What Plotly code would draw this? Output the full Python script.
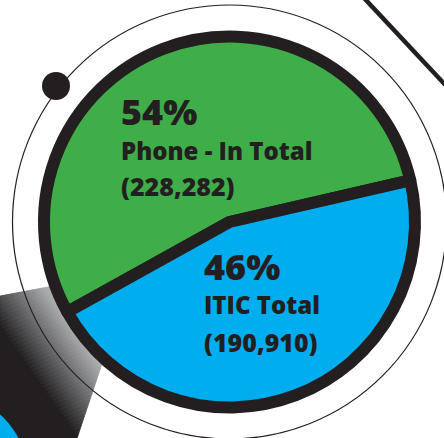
import plotly.graph_objects as go

# ---- data ----
labels = ["Phone - In Total", "ITIC Total"]
values = [228282, 190910]
percents = ["54%", "46%"]
counts = ["(228,282)", "(190,910)"]
colors = ["#3fae49", "#00aeef"]

W, H = 444, 438
DARK = "#231f20"
cx, cy = 229.5, 222.0
r_out = 191.5
lw = 12
r_pie = r_out - lw / 2

fig = go.Figure()

# ---- decorative gradient "handle" behind the pie (diagonal gradient built from strips) ----
handle = [(0, 296), (133, 271), (63, 480), (-5, 480)]
gdir = (0.82, -0.57)
stops = [(-185, (35, 31, 32)), (-168, (74, 74, 76)), (-128, (168, 169, 171)), (-110, (185, 186, 188))]


def clip(poly, a, b, c, keep_ge):
    # keep points where a*x+b*y >= c (or <= c)
    def inside(p):
        v = a * p[0] + b * p[1] - c
        return v >= 0 if keep_ge else v <= 0

    def inter(p, q):
        vp = a * p[0] + b * p[1] - c
        vq = a * q[0] + b * q[1] - c
        t = vp / (vp - vq)
        return (p[0] + t * (q[0] - p[0]), p[1] + t * (q[1] - p[1]))

    out = []
    n = len(poly)
    for i in range(n):
        cur, prv = poly[i], poly[i - 1]
        if inside(cur):
            if not inside(prv):
                out.append(inter(prv, cur))
            out.append(cur)
        elif inside(prv):
            out.append(inter(prv, cur))
    return out


def col_at(u):
    if u <= stops[0][0]:
        return stops[0][1]
    for (u0, c0), (u1, c1) in zip(stops, stops[1:]):
        if u <= u1:
            t = (u - u0) / (u1 - u0)
            return tuple(round(c0[k] + t * (c1[k] - c0[k])) for k in range(3))
    return stops[-1][1]


edges = [-1000] + [-185 + i * 1.5 for i in range(int(75 / 1.5) + 1)] + [1000]
for u0, u1 in zip(edges, edges[1:]):
    poly = clip(handle, gdir[0], gdir[1], u0, True)
    poly = clip(poly, gdir[0], gdir[1], u1, False) if poly else poly
    if len(poly) < 3:
        continue
    c = "rgb(%d,%d,%d)" % col_at((max(u0, -200) + min(u1, -100)) / 2)
    xs = [p[0] for p in poly] + [poly[0][0]]
    ys = [p[1] for p in poly] + [poly[0][1]]
    fig.add_trace(go.Scatter(x=xs, y=ys, mode="lines", fill="toself", fillcolor=c,
                             line=dict(width=0.8, color=c), hoverinfo="skip", showlegend=False))

fig.add_trace(go.Pie(
    labels=labels, values=values, sort=False, direction="counterclockwise",
    rotation=241, marker=dict(colors=colors, line=dict(color=DARK, width=lw)),
    textinfo="none", hoverinfo="label+value+percent", showlegend=False,
    domain=dict(x=[(cx - r_pie) / W, (cx + r_pie) / W],
                y=[1 - (cy + r_pie) / H, 1 - (cy - r_pie) / H])))

FONT = "Open Sans"
blocks = [(119, [111, 150, 186]), (202, [266, 304, 342])]
for i, (x0, ys) in enumerate(blocks):
    texts = [percents[i], labels[i], counts[i]]
    sizes = [36, 24, 25]
    for t, yy, s in zip(texts, ys, sizes):
        fig.add_annotation(x=x0, y=yy, xref="x", yref="y", text=t,
                           showarrow=False, xanchor="left", yanchor="middle",
                           font=dict(family=FONT, size=s, color=DARK, weight=800))

R2 = 217
shapes = [
    dict(type="circle", xref="x", yref="y", x0=cx - R2, x1=cx + R2, y0=cy - R2, y1=cy + R2,
         line=dict(color=DARK, width=1.2), layer="above"),
    dict(type="circle", xref="x", yref="y", x0=56 - 14, x1=56 + 14, y0=86 - 14, y1=86 + 14,
         fillcolor=DARK, line=dict(width=0), layer="above"),
    dict(type="line", xref="x", yref="y", x0=364, y0=-2, x1=452, y1=92,
         line=dict(color=DARK, width=4.5), layer="above"),
    dict(type="circle", xref="x", yref="y", x0=-60 - 89, x1=-60 + 89, y0=480 - 89, y1=480 + 89,
         fillcolor="#00aeef", line=dict(width=0), layer="above"),
]
fig.update_layout(
    width=W, height=H, margin=dict(l=0, r=0, t=0, b=0),
    paper_bgcolor="white", plot_bgcolor="white", shapes=shapes,
    xaxis=dict(range=[0, W], visible=False, fixedrange=True),
    yaxis=dict(range=[H, 0], visible=False, fixedrange=True),
)
fig.write_html("out.html", config={"displayModeBar": False},
               post_script="document.body.style.margin='0';")
